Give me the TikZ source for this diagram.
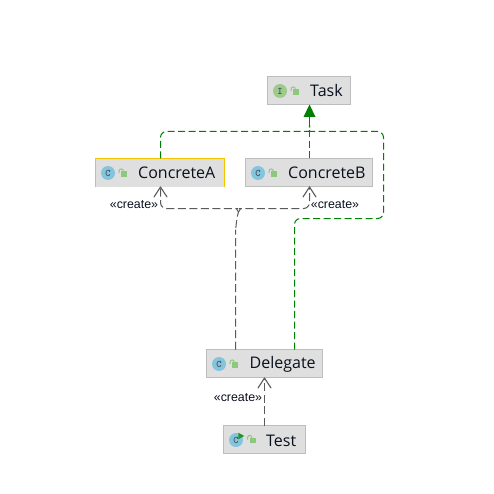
\documentclass[tikz,border=0pt]{standalone}
\usepackage{fontspec}
\setmainfont{Open Sans}
\newfontfamily\lblfont{Liberation Sans}
\usetikzlibrary{arrows.meta,calc}
\definecolor{boxfill}{HTML}{DFDFDF}
\definecolor{boxline}{HTML}{BDBDBD}
\definecolor{goldline}{HTML}{F6C500}
\definecolor{inherit}{HTML}{008000}
\definecolor{depline}{HTML}{5A5A5A}
\definecolor{classblue}{HTML}{84C5DE}
\definecolor{ifacegreen}{HTML}{9CCB8C}
\definecolor{lockgreen}{HTML}{8CC97E}
\definecolor{inkdark}{HTML}{0A0F1E}
\tikzset{
  umlbox/.style={draw=boxline,fill=boxfill,line width=1pt,inner sep=0pt,outer sep=0pt},
  namelabel/.style={anchor=west,inner sep=0pt,font=\fontsize{16}{18}\selectfont,text=inkdark},
  createlabel/.style={inner sep=0pt,font=\lblfont\fontsize{12.4}{14}\selectfont,text=inkdark},
  iconc/.style={circle,fill=classblue,minimum size=14pt,inner sep=0pt,text=inkdark!75,font=\ttfamily\bfseries\fontsize{10}{10}\selectfont},
  iconi/.style={circle,fill=ifacegreen,minimum size=14pt,inner sep=0pt,text=inkdark!75,font=\ttfamily\bfseries\fontsize{10}{10}\selectfont},
  greendash/.style={draw=inherit,line width=1pt,dash pattern=on 7pt off 3.5pt,rounded corners=6pt},
  graydash/.style={draw=depline,line width=1pt,dash pattern=on 8pt off 3.5pt,rounded corners=6pt},
  opentip/.style={draw=depline,line width=1.1pt,line cap=round,line join=round},
  lockicon/.pic={
    \fill[lockgreen] (-1.7,-2.7) rectangle (4,2.9);
    \draw[lockgreen,line width=1pt] (-3.9,-0.8) -- (-3.9,-3) arc[start angle=180,end angle=0,radius=2.1pt] -- (0.3,-2.5);
  },
}
\begin{document}
\begin{tikzpicture}[x=1pt,y=-1pt]
\useasboundingbox (0,0) rectangle (493,494);
\fill[white] (0,0) rectangle (493,494);
% boxes
\node[umlbox,minimum width=83pt,minimum height=28pt] (task) at (309,90.5) {};
\node[draw=none,fill=boxfill,inner sep=0pt,outer sep=0pt,minimum width=129pt,minimum height=28pt] (ca) at (160,172.5) {};
\draw[goldline,line width=1pt] (ca.south west) -- (ca.north west) -- (ca.north east) -- (ca.south east);
\node[umlbox,minimum width=127pt,minimum height=28pt] (cb) at (309,172.5) {};
\node[umlbox,minimum width=116pt,minimum height=28pt] (dg) at (264.5,363.5) {};
\node[umlbox,minimum width=82pt,minimum height=28pt] (tst) at (264.5,439.5) {};
% icons
\node[iconi] (taskicon) at (280,91) {I};
\node[iconc] (caicon) at (108,173) {C};
\node[iconc] (cbicon) at (258,173) {C};
\node[iconc] (dgicon) at (219,364) {C};
\node[iconc] (tsticon) at (236,440) {C};
\fill[green!50!black!85] (238.3,432.7) -- (244.3,436) -- (238.3,439.3) -- cycle;
\pic at (295,92) {lockicon};
\pic at (123,174) {lockicon};
\pic at (273,174) {lockicon};
\pic at (234,365) {lockicon};
\pic at (251.5,440.5) {lockicon};
% names
\node[namelabel] (tasktxt) at (310,91) {Task};
\node[namelabel] (catxt) at (138,173) {ConcreteA};
\node[namelabel] (cbtxt) at (288,173) {ConcreteB};
\node[namelabel] (dgtxt) at (249.5,364.5) {Delegate};
\node[namelabel] (tsttxt) at (266,440.5) {Test};
% connector ends on the boxes
\coordinate (taskS) at ($(task.south)+(0.5,0)$);
\coordinate (caT) at ($(ca.north)+(0.5,0)$);
\coordinate (caB) at ($(ca.south)+(0.5,0)$);
\coordinate (cbT) at ($(cb.north)+(0.5,0)$);
\coordinate (cbB) at ($(cb.south)+(0.5,0)$);
\coordinate (jn) at ($(taskS)+(0,21)$);
\coordinate (dgr) at ($(dg.north)+(30,0)$);
\coordinate (dgl) at ($(dg.north)+(-29,0)$);
% inheritance
\draw[greendash] (cbT) -- (jn);
\draw[greendash] (caT) -- (160.5,131.5) -- (303.5,131.5) to[out=0,in=-90] (jn);
\draw[greendash] (dgr) -- (294.5,218.5) -- (383.5,218.5) -- (383.5,131.5) -- (315.5,131.5) to[out=180,in=-90] (jn);
\fill[inherit] (taskS) -- ++(6,12.5) -- ++(-12,0) -- cycle;
\draw[inherit,line width=1pt] ($(taskS)+(0,12)$) -- (jn);
% dependencies
\coordinate (fork) at (238.5,212);
\draw[graydash] (dgl) -- (235.5,226) to[out=-90,in=-110] (fork);
\draw[graydash] (fork) to[out=110,in=0] (232,208.5) -- (160.5,208.5) -- (caB);
\draw[graydash] (fork) to[out=70,in=180] (245,208.5) -- (309.5,208.5) -- (cbB);
\draw[graydash,rounded corners=0pt] (tst.north) -- (dg.south);
\draw[opentip] ($(caB)+(-6.5,10.5)$) -- ($(caB)+(0,0.5)$) -- ($(caB)+(6.5,10.5)$);
\draw[opentip] ($(cbB)+(-6.5,10.5)$) -- ($(cbB)+(0,0.5)$) -- ($(cbB)+(6.5,10.5)$);
\draw[opentip] ($(dg.south)+(-6.5,10.5)$) -- ($(dg.south)+(0,0.5)$) -- ($(dg.south)+(6.5,10.5)$);
% labels
\node[createlabel] (l1) at (134,205) {«create»};
\node[createlabel] (l2) at (335,205) {«create»};
\node[createlabel] (l3) at (238,397.5) {«create»};
\end{tikzpicture}
\end{document}
